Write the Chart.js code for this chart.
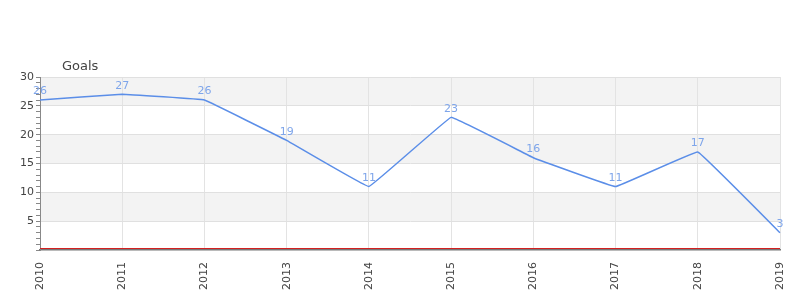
<!DOCTYPE html>
<html>
<head>
<meta charset="utf-8">
<script src="https://cdn.jsdelivr.net/npm/chart.js@4/dist/chart.umd.min.js"></script>
<style>
  html, body { margin: 0; padding: 0; background: #fff; }
  #wrap { width: 800px; height: 300px; }
</style>
</head>
<body>
<div id="wrap"><canvas id="goalsChart"></canvas></div>
<script>
var title = 'Goals';
var years = ['2010', '2011', '2012', '2013', '2014', '2015', '2016', '2017', '2018', '2019'];
var goals = [26, 27, 26, 19, 11, 23, 16, 11, 17, 3];
var yMax = 30;
var bandStep = 5;

// alternating bands, value labels, red zero line and title
var decorPlugin = {
    id: 'decor',
    beforeDraw: function (chart) {
        var ctx = chart.ctx, area = chart.chartArea, y = chart.scales.y;
        ctx.save();
        ctx.fillStyle = '#f3f3f3';
        for (var v = yMax; v > 0; v -= bandStep * 2) {
            var top = y.getPixelForValue(v);
            var bot = y.getPixelForValue(v - bandStep);
            ctx.fillRect(area.left, top, area.right - area.left, bot - top);
        }
        ctx.restore();
    },
    afterDraw: function (chart) {
        var ctx = chart.ctx, area = chart.chartArea, y = chart.scales.y;
        ctx.save();
        var zero = Math.round(y.getPixelForValue(0)) - 1.5;
        ctx.strokeStyle = '#d42020';
        ctx.lineWidth = 1;
        ctx.beginPath();
        ctx.moveTo(area.left, zero);
        ctx.lineTo(area.right, zero);
        ctx.stroke();

        var meta = chart.getDatasetMeta(0);
        ctx.fillStyle = '#7ea5ea';
        ctx.font = '11px "DejaVu Sans"';
        ctx.textAlign = 'center';
        ctx.textBaseline = 'bottom';
        meta.data.forEach(function (pt, i) {
            ctx.fillText(String(goals[i]), pt.x, pt.y - 3);
        });

        ctx.fillStyle = '#444';
        ctx.font = '13px "DejaVu Sans"';
        ctx.textAlign = 'left';
        ctx.textBaseline = 'middle';
        ctx.fillText(title, area.left + 22, area.top - 10);
        ctx.restore();
    }
};

new Chart(document.getElementById('goalsChart').getContext('2d'), {
    type: 'line',
    data: {
        labels: years,
        datasets: [{
            label: title,
            data: goals,
            borderColor: '#5b8ee8',
            borderWidth: 1.5,
            pointRadius: 0,
            tension: 0.04,
            fill: false
        }]
    },
    options: {
        responsive: true,
        maintainAspectRatio: false,
        animation: false,
        layout: { padding: { top: 77, right: 20, left: 0, bottom: 0 } },
        plugins: {
            legend: { display: false },
            tooltip: { enabled: false }
        },
        scales: {
            x: {
                offset: false,
                afterFit: function (s) { s.height = 50; s.paddingRight = 0; s.paddingLeft = 0; },
                grid: { color: '#e3e3e3', tickLength: 0, drawTicks: false },
                border: { color: '#777', width: 1.5 },
                ticks: {
                    color: '#444',
                    font: { family: 'DejaVu Sans', size: 11 },
                    minRotation: 90,
                    maxRotation: 90,
                    padding: 12,
                    autoSkip: false
                }
            },
            y: {
                min: 0,
                max: yMax,
                afterFit: function (s) { s.width = 40; },
                grid: {
                    color: function (c) {
                        var v = c.tick ? c.tick.value : 0;
                        return (v % bandStep === 0 && v > 0) ? '#e0e0e0' : 'rgba(0,0,0,0)';
                    },
                    tickColor: '#888',
                    tickLength: 4
                },
                border: { color: '#888' },
                ticks: {
                    stepSize: 1,
                    autoSkip: false,
                    padding: 2,
                    color: '#444',
                    font: { family: 'DejaVu Sans', size: 11 },
                    callback: function (v) {
                        return (v % bandStep === 0 && v > 0) ? String(v) : '';
                    }
                }
            }
        }
    },
    plugins: [decorPlugin]
});
</script>
</body>
</html>
